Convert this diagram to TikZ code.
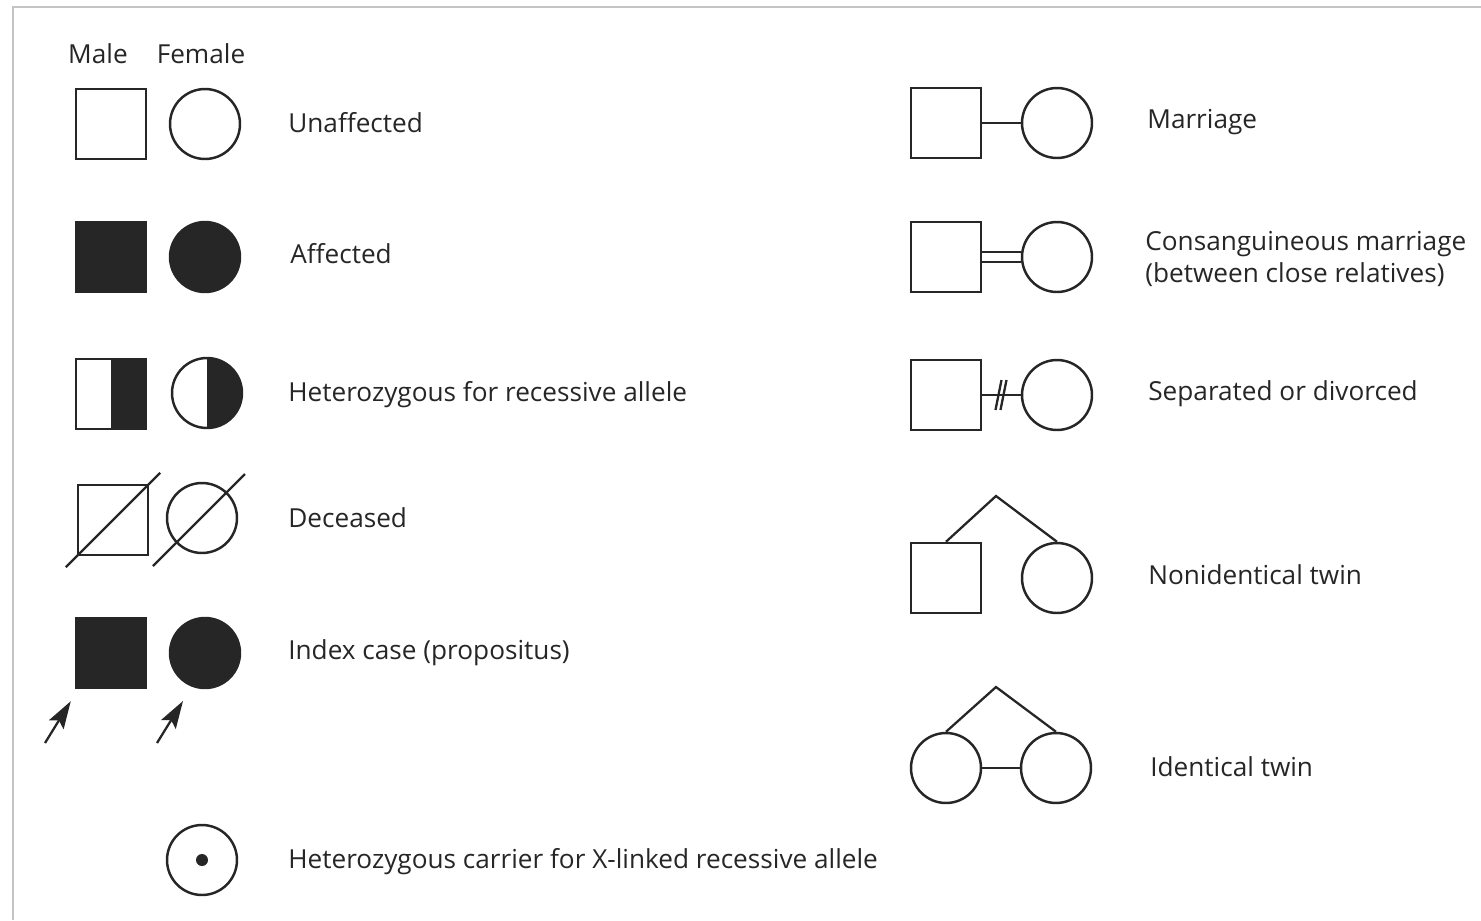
\documentclass[tikz,border=0pt]{standalone}
\usepackage{fontspec}
\setmainfont{Open Sans}
\usetikzlibrary{arrows.meta}
\definecolor{ink}{HTML}{262626}
\definecolor{frame}{HTML}{C4C4C4}

\begin{document}
\begin{tikzpicture}[x=0.02cm,y=-0.02cm,
        male/.style={draw=ink,rectangle,line width=1.4pt,minimum size=1.4cm,inner sep=0pt},
        female/.style={draw=ink,circle,line width=1.4pt,minimum size=1.4cm,inner sep=0pt},
        affected/.style={fill=ink},
        halfbox/.style={path picture={\fill[ink] (path picture bounding box.north) rectangle (path picture bounding box.south east);}},
        lbl/.style={anchor=base west,inner sep=0pt,text=ink,font=\fontsize{14.9}{18}\selectfont},
        head/.style={anchor=base,inner sep=0pt,text=ink,font=\fontsize{14.9}{18}\selectfont},
        link/.style={draw=ink,line width=1.3pt},
        pointer/.style={draw=ink,line width=1.3pt,-{Stealth[length=5.5mm,width=3.4mm,inset=1mm]}}
      ]
      \useasboundingbox (0,0) rectangle (1481,920);
      % frame
      \draw[frame,line width=1.2pt] (13,920) -- (13,7) -- (1481,7);

      % left column
      \node[head] (hm) at (98,63) {Male};
      \node[head] (hf) at (201,63) {Female};

      \node[male] (m1) at (111,124) {};
      \node[female] (f1) at (205,124) {};
      \node[lbl] (t1) at (288,132) {Unaffected};

      \node[male,affected] (m2) at (111,257) {};
      \node[female,affected] (f2) at (205,257) {};
      \node[lbl] (t2) at (290,263) {Affected};

      \node[male,halfbox] (m3) at (111,394) {};
      \node[female,halfbox] (f3) at (207,393) {};
      \node[lbl] (t3) at (288,401) {Heterozygous for recessive allele};

      \node[male] (m4) at (113,520) {};
      \node[female] (f4) at (202,518) {};
      \draw[link] ([shift={(-11,11)}]m4.south west) -- ([shift={(11,-11)}]m4.north east);
      \draw[link] ([shift={(-49,48)}]f4.center) -- ([shift={(43,-44)}]f4.center);
      \node[lbl] (t4) at (288,527) {Deceased};

      \node[male,affected] (m5) at (111,653) {};
      \node[female,affected] (f5) at (205,653) {};
      \coordinate (pm) at (45,743);
      \coordinate (pf) at (157,743);
      \draw[pointer] (pm) -- ([shift={(-4,12)}]m5.south west);
      \draw[pointer] (pf) -- (183,701);
      \node[lbl] (t5) at (288,659) {Index case (propositus)};

      \node[female] (f6) at (202,860) {};
      \fill[ink] (f6.center) circle[radius=0.12cm];
      \node[lbl] (t6) at (288,868) {Heterozygous carrier for X-linked recessive allele};

      % right column
      \node[male] (mm) at (946,123) {};
      \node[female] (fm) at (1057,123) {};
      \draw[link] (mm.east) -- (fm.west);
      \node[lbl] (tm) at (1147,128) {Marriage};

      \node[male] (mc) at (946,257) {};
      \node[female] (fc) at (1057,257) {};
      \draw[link] ([yshift=-0.1cm]mc.east) -- ([yshift=-0.1cm]fc.west);
      \draw[link] ([yshift=0.1cm]mc.east) -- ([yshift=0.1cm]fc.west);
      \node[lbl] (tc) at (1145,250) {Consanguineous marriage};
      \node[lbl] (tc2) at (1145,282) {(between close relatives)};

      \node[male] (md) at (946,395) {};
      \node[female] (fd) at (1057,395) {};
      \draw[link] (md.east) -- coordinate (cut) (fd.west);
      \draw[link] ([shift={(-6,15)}]cut) -- ([shift={(0,-15)}]cut);
      \draw[link] ([shift={(-1,15)}]cut) -- ([shift={(5,-15)}]cut);
      \node[lbl] (td) at (1148,400) {Separated or divorced};

      \node[male] (mn) at (946,578) {};
      \node[female] (fn) at (1057,578) {};
      \coordinate (topn) at (996,496);
      \draw[link] (mn.north) -- (topn) -- (fn.north);
      \node[lbl] (tn) at (1148,584) {Nonidentical twin};

      \node[female] (fi1) at (946,768) {};
      \node[female] (fi2) at (1056,768) {};
      \coordinate (topi) at (996,687);
      \draw[link] (fi1.north) -- (topi) -- (fi2.north);
      \draw[link] (fi1.east) -- (fi2.west);
      \node[lbl] (ti) at (1150,776) {Identical twin};
    \end{tikzpicture}
\end{document}
